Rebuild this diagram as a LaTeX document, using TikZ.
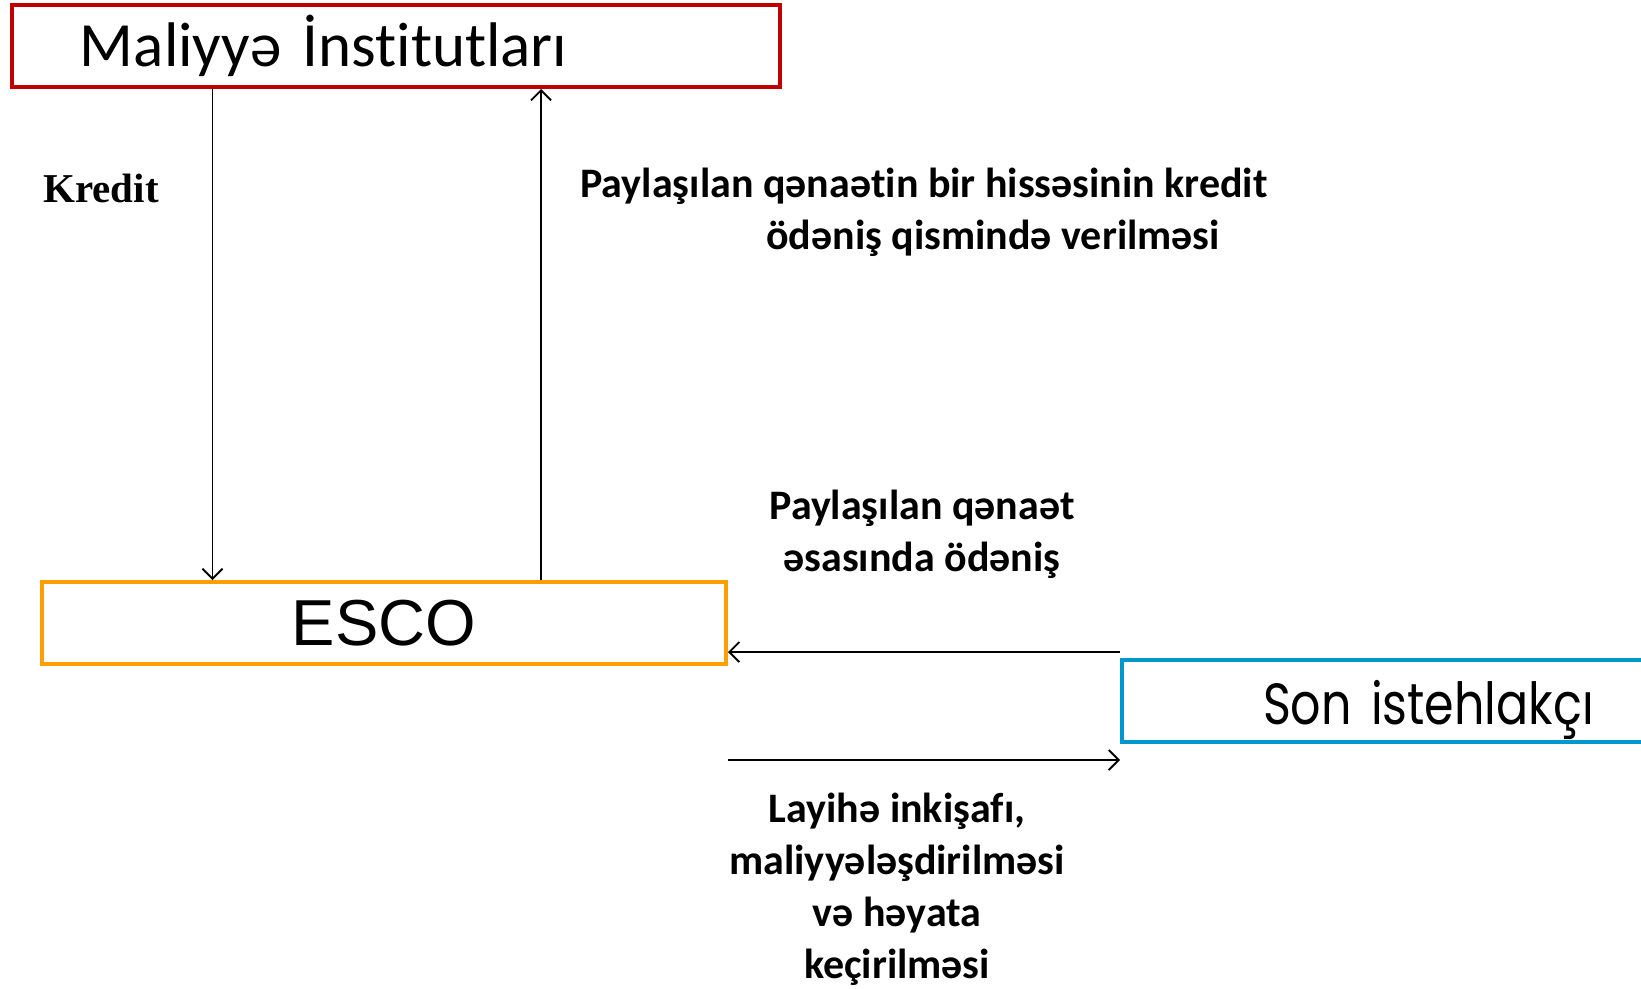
\documentclass[tikz,border=0pt]{standalone}
\usepackage{fontspec}
\setmainfont[Ligatures=NoCommon]{Carlito}
\newfontfamily\arialf{Liberation Sans}
\newfontfamily\timesf{Liberation Serif}
\newfontfamily\gothicf[FakeStretch=0.82]{Poppins}
\usetikzlibrary{arrows.meta}
\definecolor{finred}{HTML}{C00000}
\definecolor{escoorange}{HTML}{FF9E00}
\definecolor{sonblue}{HTML}{0097CC}
\begin{document}
\begin{tikzpicture}[x=1pt,y=-1pt,
  box/.style={draw, line width=4pt, inner sep=0pt, anchor=north west, minimum height=82pt},
  conn/.style={line width=1.8pt, -{Straight Barb[length=10pt,width=20pt,line width=1.8pt]}},
  lbl/.style={font=\fontsize{42}{52}\selectfont\bfseries, align=center, inner sep=0pt}]
\useasboundingbox (0,0) rectangle (1641,988);
\node[box, draw=finred, minimum width=768pt, text width=768pt, align=left,
  font=\fontsize{63}{70}\selectfont] (fin) at (10,3) {\hspace*{68pt}Maliyyə İnstitutları};
\node[box, draw=escoorange, minimum width=684pt,
  font=\arialf\fontsize{65}{70}\selectfont] (esco) at (40,580) {ESCO};
\node[box, draw=sonblue, minimum width=600pt, text width=600pt, align=left,
  font=\gothicf\fontsize{58}{66}\selectfont] (son) at (1120,658) {\hspace*{141pt}\raisebox{-23pt}[0pt][0pt]{Son istehlakçı}};
% connectors
\coordinate (a) at ([yshift=6pt]son.north west);
\coordinate (b) at ([yshift=-94pt]esco.south east);
\draw[conn] ([xshift=202.5pt]fin.south west) -- ([xshift=172.5pt]esco.north west);
\draw[conn] ([xshift=501pt]esco.north west) -- ([xshift=531pt]fin.south west);
\draw[conn] (a) -- (esco.east |- a);
\draw[conn] (b) -- (son.west |- b);
% labels
\node[font=\timesf\bfseries\fontsize{41}{46}\selectfont, inner sep=0pt] (kredit) at (101,188) {Kredit};
\node[lbl] (pay1) at (924,212) {Paylaşılan qənaətin bir hissəsinin kredit\\\hspace*{138pt}ödəniş qismində verilməsi};
\node[lbl] (pay2) at (922,534) {Paylaşılan qənaət\\əsasında ödəniş};
\node[lbl] (lay) at (897,889) {Layihə inkişafı,\\maliyyələşdirilməsi\\və həyata\\keçirilməsi};
\end{tikzpicture}
\end{document}
